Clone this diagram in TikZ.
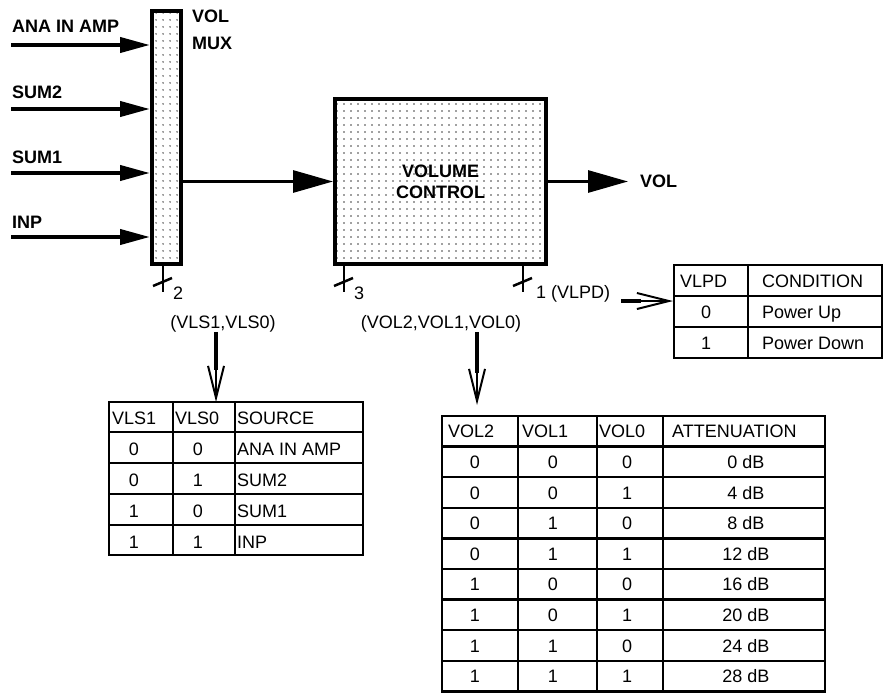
\documentclass[tikz,border=0pt]{standalone}
\usepackage{fontspec}
\setmainfont{Liberation Sans}
\usetikzlibrary{arrows.meta,patterns.meta,calc}

\tikzset{
    block/.style={draw, line width=4pt, pattern={Dots[distance=6.5pt,radius=0.9pt]}, pattern color=black!75, inner sep=0pt},
    feed/.style={line width=4pt, -{Triangle[length=30pt,width=15pt]}},
    sig/.style={line width=3pt, -{Triangle[length=40pt,width=22pt]}},
    tick/.style={line width=2.5pt},
    sel/.style={line width=1.2pt, -{Straight Barb[length=32pt,width=16pt,line width=2pt]}, preaction={draw, line width=4.5pt, shorten >=32pt, -}},
    grid/.style={line width=2.5pt},
    lbl/.style={font=\fontsize{18}{21}\selectfont\bfseries, inner sep=0pt},
    txt/.style={inner sep=0pt},
}

\begin{document}
\begin{tikzpicture}[x=1pt, y=-1pt, font=\fontsize{18}{21}\selectfont]
                \useasboundingbox (0,0) rectangle (884,693);

                \node[block, minimum width=29pt, minimum height=252pt] (mux) at (166.5,137.5) {};
                \node[block, minimum width=211pt, minimum height=165pt] (vc) at (440.5,181.5) {};
                \node[lbl, align=center] (vctext) at (vc.center) {VOLUME\\CONTROL};

                \node[lbl, anchor=base west] (muxa) at (192,23) {VOL};
                \node[lbl, anchor=base west] (muxb) at (192,50) {MUX};

                \node[lbl, anchor=base west] (lana) at (12,33) {ANA IN AMP};
                \node[lbl, anchor=base west] (lsumb) at (12,99) {SUM2};
                \node[lbl, anchor=base west] (lsuma) at (12,163) {SUM1};
                \node[lbl, anchor=base west] (linp) at (12,228) {INP};

                \foreach \name/\yy in {ana/45, sumb/109, suma/173, inp/237} {
                    \coordinate (\name) at (11,\yy);
                    \draw[feed] (\name) -- (\name -| mux.west);
                }

                \draw[sig] (mux.east |- vc.west) -- (vc.west);
                \coordinate (vout) at (628,181.5);
                \draw[sig] (vc.east) -- (vout);
                \node[lbl, anchor=base west] (lvol) at (640,187) {VOL};

                \foreach \name/\xx/\blk in {tka/163/mux, tkb/344/vc, tkc/523/vc} {
                    \coordinate (\name) at (\xx,292);
                    \draw[tick] (\name |- \blk.south) -- (\name);
                    \draw[tick] ($(\name)+(-10,-6)$) -- ($(\name)+(9,-14)$);
                }
                \node[txt, anchor=base west] (ltka) at (173,299) {2};
                \node[txt, anchor=base west] (ltkb) at (354,299) {3};
                \node[txt, anchor=base west] (ltkc) at (536,298) {1 (VLPD)};

                \node[txt, anchor=base] (selvls) at (223,328) {(VLS1,VLS0)};
                \node[txt, anchor=base] (selvol) at (441,328) {(VOL2,VOL1,VOL0)};

                \coordinate (vlstop) at (216,402);
                \coordinate (voltop) at (477,405);
                \coordinate (vlpdout) at (621,301);
                \coordinate (vlpdin) at (673,301);
                \draw[sel] (selvls.south -| vlstop) -- (vlstop);
                \draw[sel] (selvol.south -| voltop) -- (voltop);
                \draw[sel] (vlpdout) -- (vlpdin);

                % VLS table
                \draw[grid] (109,402) rectangle (363,555);
                \foreach \yy in {432,463,494,525} \draw[grid] (109,\yy) -- (363,\yy);
                \foreach \xx in {173,235} \draw[grid] (\xx,402) -- (\xx,555);
                \node[txt, anchor=base west] (vlsh1) at (112,424) {VLS1};
                \node[txt, anchor=base west] (vlsh2) at (175,424) {VLS0};
                \node[txt, anchor=base west] (vlsh3) at (237,424) {SOURCE};
                \foreach \a/\b/\s [count=\r] in {0/0/ANA IN AMP, 0/1/SUM2, 1/0/SUM1, 1/1/INP} {
                    \node[txt, anchor=base] (vls-\r-a) at (134,424+31*\r) {\a};
                    \node[txt, anchor=base] (vls-\r-b) at (198,424+31*\r) {\b};
                    \node[txt, anchor=base west] (vls-\r-c) at (237,424+31*\r) {\s};
                }

                % VOL table
                \draw[grid] (442,416) rectangle (825,691.4);
                \foreach \r in {1,...,8} \draw[grid] (442,416+30.6*\r) -- (825,416+30.6*\r);
                \foreach \xx in {518,597,663} \draw[grid] (\xx,416) -- (\xx,691.4);
                \node[txt, anchor=base west] (volh1) at (448,437.8) {VOL2};
                \node[txt, anchor=base west] (volh2) at (522,437.8) {VOL1};
                \node[txt, anchor=base west] (volh3) at (599,437.8) {VOL0};
                \node[txt, anchor=base west] (volh4) at (672,437.8) {ATTENUATION};
                \foreach \a/\b/\c/\d [count=\r] in {0/0/0/0, 0/0/1/4, 0/1/0/8, 0/1/1/12, 1/0/0/16, 1/0/1/20, 1/1/0/24, 1/1/1/28} {
                    \node[txt, anchor=base] (vol-\r-a) at (475,437.8+30.6*\r) {\a};
                    \node[txt, anchor=base] (vol-\r-b) at (553,437.8+30.6*\r) {\b};
                    \node[txt, anchor=base] (vol-\r-c) at (627,437.8+30.6*\r) {\c};
                    \node[txt, anchor=base] (vol-\r-d) at (746,437.8+30.6*\r) {\d\ dB};
                }

                % VLPD table
                \draw[grid] (674,265) rectangle (882,358);
                \foreach \yy in {296,327} \draw[grid] (674,\yy) -- (882,\yy);
                \draw[grid] (748,265) -- (748,358);
                \node[txt, anchor=base west] (vlpdh1) at (680,287) {VLPD};
                \node[txt, anchor=base west] (vlpdh2) at (762,287) {CONDITION};
                \node[txt, anchor=base] (vlpd-1-a) at (706,318) {0};
                \node[txt, anchor=base west] (vlpd-1-b) at (762,318) {Power Up};
                \node[txt, anchor=base] (vlpd-2-a) at (706,349) {1};
                \node[txt, anchor=base west] (vlpd-2-b) at (762,349) {Power Down};
            \end{tikzpicture}
\end{document}
